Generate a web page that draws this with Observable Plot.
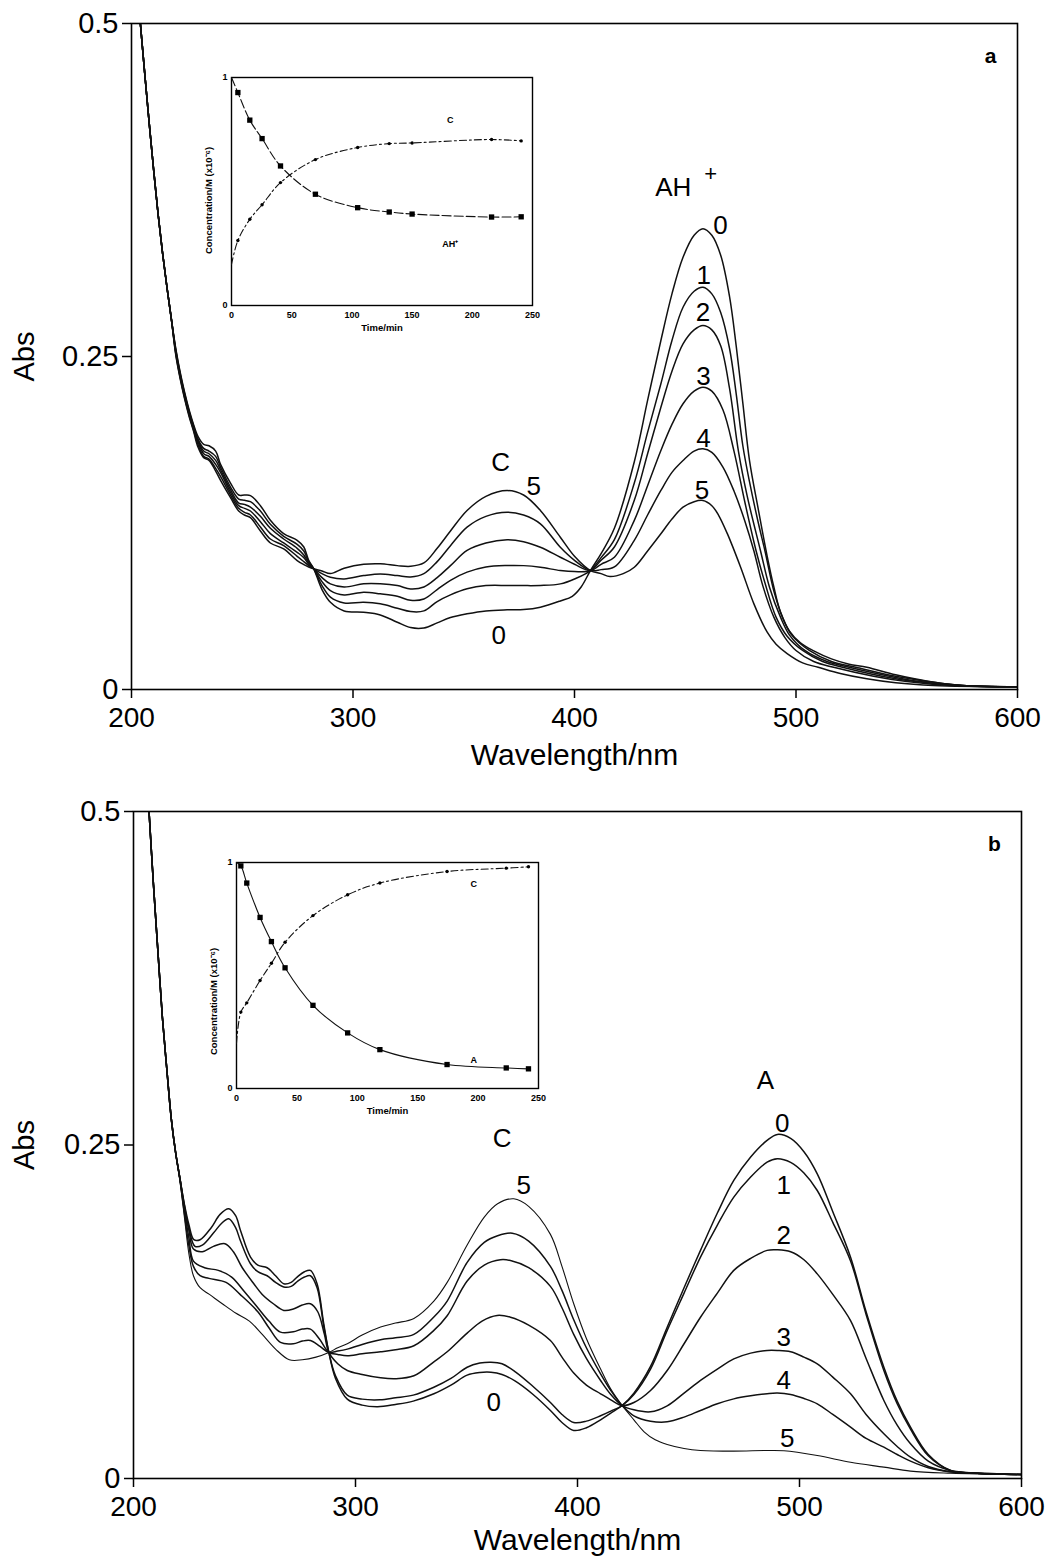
<!DOCTYPE html>
<html><head><meta charset="utf-8">
<script src="https://cdn.jsdelivr.net/npm/d3@7"></script>
<script src="https://cdn.jsdelivr.net/npm/@observablehq/plot@0.6"></script>
<style>
body{margin:0;background:#fff;}
#root{position:relative;width:1049px;height:1557px;background:#fff;overflow:hidden;}
.pane{position:absolute;}
</style></head><body><div id="root"></div>
<script>
// ---------- axis ticks ----------
const wlTicks = [200, 300, 400, 500, 600];
const absTicks = [0, 0.25, 0.5];
const timeTicks = [0, 50, 100, 150, 200, 250];
const concTicks = [0, 1];

// ---------- panel a spectra: [wavelength nm, Abs] ----------
const specA0 = [[204,0.500],[206,0.462],[208,0.425],[210,0.390],[212,0.357],[214,0.328],[216,0.302],[218,0.278],[220,0.256],[222,0.238],[224,0.223],[226,0.210],
 [228,0.199],[230,0.190],[232.6,0.184],[235,0.183],[238,0.179],[240.2,0.169],[244.7,0.155],[248.4,0.146],[251,0.146],[253.7,0.1456],[258.2,0.138],[262.7,0.127],[268.7,0.117],[274.8,0.112],[277.8,0.107],[280,0.097],[282.3,0.0906],
 [286,0.075],[289.8,0.0655],[296,0.059],[304.8,0.058],[312.3,0.056],[320,0.0505],[326,0.0465],[332,0.0462],[338,0.050],[344,0.054],[351.5,0.0568],[360,0.059],[369.6,0.0598],[377,0.060],[384.6,0.0618],[393.6,0.0665],[399,0.070],[403,0.077],[407.2,0.0893],
 [412,0.102],[418,0.121],[427,0.171],[433,0.217],[439,0.262],[444,0.297],[449,0.3245],[454,0.341],[458,0.346],[462,0.341],[466,0.326],[470,0.295],[473,0.258],[476,0.215],[479,0.172],[483,0.135],[487,0.100],[490,0.077],[493,0.058],[497,0.044],[502,0.035],[508,0.029],[516,0.023],[524,0.019],[532,0.0167],[545,0.011],[560,0.006],[575,0.003],[600,0.002]];
const specA1 = [[204,0.500],[206,0.462],[208,0.425],[210,0.390],[212,0.357],[214,0.328],[216,0.302],[218,0.278],[220,0.255],[222,0.237],[224,0.222],[226,0.209],
 [228,0.198],[230,0.188],[232.6,0.181],[235,0.179],[238,0.175],[240.2,0.167],[244.7,0.152],[248.4,0.143],[251,0.142],[253.7,0.141],[258.2,0.134],[262.7,0.124],[268.7,0.115],[274.8,0.109],[277.8,0.104],[280,0.096],[282.3,0.0906],
 [286,0.078],[289.8,0.0693],[296,0.065],[304.8,0.0655],[312.3,0.0643],[320,0.061],[326,0.0585],[332,0.059],[338,0.066],[344,0.071],[351.5,0.0756],[360,0.078],[369.6,0.0781],[377,0.078],[384.6,0.0781],[393.6,0.0793],[400,0.083],[407.2,0.0893],
 [412,0.099],[418,0.1125],[427,0.155],[433,0.193],[439,0.2295],[444,0.262],[449,0.287],[454,0.299],[458,0.302],[462,0.297],[466,0.283],[470,0.256],[473,0.222],[476,0.183],[479,0.156],[483,0.125],[486,0.104],[490,0.074],[494,0.054],[498,0.041],[506,0.0293],[516,0.021],[527,0.0167],[545,0.010],[560,0.006],[575,0.003],[600,0.002]];
const specA2 = [[204,0.500],[206,0.462],[208,0.425],[210,0.390],[212,0.357],[214,0.328],[216,0.302],[218,0.278],[220,0.254],[222,0.236],[224,0.221],[226,0.208],
 [228,0.197],[230,0.187],[232.6,0.179],[235,0.177],[238,0.172],[240.2,0.165],[244.7,0.150],[248.4,0.140],[251,0.139],[253.7,0.137],[258.2,0.130],[262.7,0.121],[268.7,0.113],[274.8,0.106],[277.8,0.101],[280,0.095],[282.3,0.0906],
 [286,0.081],[289.8,0.0743],[296,0.071],[304.8,0.0731],[312.3,0.0718],[320,0.070],[326,0.067],[332,0.068],[338,0.075],[344,0.082],[351.5,0.0881],[360,0.092],[369.6,0.0931],[377,0.093],[384.6,0.0918],[393.6,0.0893],[400,0.0885],[407.2,0.0893],
 [412,0.097],[418,0.107],[427,0.142],[433,0.177],[439,0.2119],[444,0.239],[449,0.2595],[454,0.270],[458,0.2733],[462,0.270],[466,0.258],[470,0.226],[474,0.179],[478,0.145],[484,0.104],[488,0.077],[493,0.0543],[497,0.041],[504,0.0293],[514,0.021],[524,0.0167],[545,0.009],[560,0.005],[575,0.003],[600,0.002]];
const specA3 = [[204,0.500],[206,0.462],[208,0.425],[210,0.390],[212,0.357],[214,0.328],[216,0.302],[218,0.278],[220,0.253],[222,0.235],[224,0.220],[226,0.207],
 [228,0.196],[230,0.186],[232.6,0.177],[235,0.175],[238,0.169],[240.2,0.163],[244.7,0.148],[248.4,0.138],[251,0.136],[253.7,0.134],[258.2,0.126],[262.7,0.117],[268.7,0.110],[274.8,0.103],[277.8,0.099],[280,0.094],[282.3,0.0906],
 [286,0.084],[289.8,0.0793],[296,0.077],[304.8,0.0793],[312.3,0.0793],[320,0.078],[326,0.0755],[332,0.077],[338,0.084],[344,0.093],[351.5,0.1044],[360,0.110],[369.6,0.1124],[377,0.111],[384.6,0.1068],[393.6,0.0993],[400,0.094],[407.2,0.0893],
 [412,0.094],[418,0.0993],[427,0.127],[433,0.153],[439,0.1794],[444,0.199],[449,0.2145],[454,0.224],[458,0.227],[462,0.224],[467,0.210],[472,0.179],[477,0.140],[482,0.104],[486,0.080],[491,0.0543],[496,0.040],[503,0.0293],[512,0.021],[521,0.0167],[545,0.008],[560,0.005],[575,0.003],[600,0.002]];
const specA4 = [[204,0.500],[206,0.462],[208,0.425],[210,0.390],[212,0.357],[214,0.328],[216,0.302],[218,0.278],[220,0.252],[222,0.234],[224,0.219],[226,0.206],
 [228,0.195],[230,0.184],[232.6,0.175],[235,0.173],[238,0.166],[240.2,0.160],[244.7,0.146],[248.4,0.136],[251,0.133],[253.7,0.131],[258.2,0.122],[262.7,0.113],[268.7,0.108],[274.8,0.100],[277.8,0.096],[280,0.093],[282.3,0.0906],
 [286,0.087],[289.8,0.0843],[296,0.083],[304.8,0.0855],[312.3,0.0868],[320,0.0855],[326,0.0845],[332,0.087],[338,0.096],[344,0.108],[351.5,0.1219],[360,0.130],[369.6,0.1331],[377,0.131],[384.6,0.1244],[393.6,0.1068],[400,0.097],[407.2,0.0893],
 [412,0.090],[418,0.092],[427,0.112],[433,0.131],[439,0.1494],[444,0.163],[449,0.1719],[454,0.179],[458,0.1807],[462,0.178],[467,0.167],[472,0.149],[477,0.126],[481,0.104],[485,0.078],[490,0.0543],[495,0.039],[500,0.0293],[508,0.021],[517,0.0167],[535,0.010],[550,0.006],[570,0.003],[600,0.002]];
const specA5 = [[204,0.500],[206,0.462],[208,0.425],[210,0.390],[212,0.357],[214,0.328],[216,0.302],[218,0.278],[220,0.251],[222,0.233],[224,0.218],[226,0.205],
 [228,0.194],[230,0.182],[232.6,0.174],[235,0.172],[238,0.164],[240.2,0.157],[244.7,0.144],[248.4,0.134],[251,0.131],[253.7,0.129],[258.2,0.119],[262.7,0.110],[268.7,0.1056],[274.8,0.0968],[277.8,0.0938],[280,0.092],[282.3,0.0906],
 [286,0.089],[289.8,0.087],[296,0.091],[304.8,0.094],[312.3,0.0944],[320,0.093],[326,0.0925],[332,0.095],[338,0.106],[344,0.119],[351.5,0.1344],[360,0.145],[369.6,0.1494],[377,0.146],[384.6,0.1344],[393.6,0.1143],[400,0.100],[407.2,0.0893],
 [412,0.087],[416,0.0848],[422,0.087],[427,0.0918],[433,0.104],[439,0.1169],[444,0.128],[449,0.1369],[454,0.141],[458,0.1419],[462,0.138],[465,0.131],[469,0.117],[475,0.0918],[481,0.0643],[487,0.043],[491,0.034],[496,0.027],[503,0.020],[510,0.0167],[520,0.012],[532,0.008],[545,0.005],[562,0.003],[600,0.002]];

// ---------- panel b spectra ----------
const specB0 = [[207,0.500],[209,0.445],[211,0.395],[213,0.346],[215,0.307],[217,0.270],[219,0.244],[221,0.224],[223,0.205],
 [225,0.190],[227.2,0.179],[230,0.179],[235,0.188],[239,0.198],[242.9,0.2022],[246,0.197],[248.2,0.186],[252.7,0.166],[256,0.160],[260.2,0.158],[264,0.152],[267.7,0.146],[271,0.147],[273.7,0.151],[277,0.155],[279.7,0.156],[282.7,0.146],[285.7,0.116],[288,0.0945],
 [291,0.075],[296.3,0.0595],[303,0.055],[310,0.0538],[318,0.0555],[326,0.058],[335.3,0.0635],[343,0.070],[350.3,0.0775],[356,0.0795],[361,0.0797],[366,0.078],[372,0.073],[380,0.063],[387.8,0.051],[393,0.042],[398.3,0.036],[404,0.038],[410.4,0.044],[415,0.049],[420.1,0.0547],
 [425.4,0.064],[432.9,0.084],[440.4,0.1134],[448,0.143],[455.4,0.171],[463,0.199],[470.4,0.2234],[478,0.241],[485.4,0.2534],[490,0.2579],[496,0.255],[502,0.245],[508,0.2284],[515,0.200],[523,0.1659],[530,0.125],[538,0.0834],[544,0.058],[550,0.0385],[558,0.018],[568,0.006],[580,0.004],[600,0.003]];
const specB1 = [[207,0.500],[209,0.445],[211,0.395],[213,0.346],[215,0.307],[217,0.270],[219,0.244],[221,0.224],[223,0.204],
 [225,0.187],[227.7,0.174],[231,0.175],[236,0.184],[239.5,0.191],[242.9,0.1947],[246,0.188],[248.2,0.178],[252.7,0.161],[256,0.155],[260.2,0.152],[264,0.147],[267.7,0.1435],[271,0.144],[274,0.148],[277,0.151],[279.7,0.152],[282.7,0.143],[285.7,0.114],[288,0.0945],
 [291,0.077],[296.3,0.0625],[303,0.0595],[311,0.059],[318,0.0605],[326,0.0625],[335.3,0.0684],[343,0.075],[350.3,0.0834],[356,0.0865],[361,0.0872],[366,0.086],[372,0.080],[380,0.069],[387.8,0.057],[393,0.048],[398.3,0.042],[404,0.043],[410.4,0.047],[415,0.0505],[420.1,0.0547],
 [425.4,0.063],[432.9,0.082],[440.4,0.111],[448,0.139],[455.4,0.166],[463,0.190],[470.4,0.2109],[478,0.226],[485.4,0.2371],[490,0.2397],[496,0.237],[502,0.229],[508,0.2159],[515,0.192],[523,0.163],[530,0.123],[538,0.0809],[544,0.056],[550,0.037],[558,0.017],[568,0.006],[580,0.004],[600,0.003]];
const specB2 = [[207,0.500],[209,0.445],[211,0.395],[213,0.346],[215,0.307],[217,0.270],[219,0.244],[221,0.224],[223,0.202],
 [225,0.186],[227,0.172],[231,0.170],[236,0.174],[241.2,0.176],[245,0.170],[249,0.158],[254.2,0.146],[258,0.138],[263,0.131],[267.7,0.126],[272,0.127],[276,0.130],[279.7,0.131],[283,0.125],[286,0.108],[288,0.0945],
 [292,0.086],[296.3,0.081],[303,0.078],[311.3,0.0755],[318,0.0748],[326.3,0.077],[335.3,0.0875],[341.3,0.095],[350.3,0.109],[357,0.118],[363.8,0.1222],[369.8,0.1209],[378,0.115],[387.8,0.1034],[393,0.091],[398.3,0.079],[404,0.070],[410.4,0.0635],[415,0.059],[420.1,0.0547],
 [425.4,0.057],[432.9,0.066],[440.4,0.081],[448,0.101],[455.4,0.1209],[463,0.139],[470.4,0.156],[478,0.165],[485.4,0.171],[490,0.1714],[496,0.170],[502,0.164],[508,0.1534],[515,0.138],[523,0.1184],[530,0.090],[538,0.0585],[544,0.040],[550,0.026],[558,0.013],[568,0.006],[580,0.004],[600,0.003]];
const specB3 = [[207,0.500],[209,0.445],[211,0.395],[213,0.346],[215,0.307],[217,0.270],[219,0.244],[221,0.224],[223,0.200],
 [225,0.180],[227,0.163],[232,0.158],[238.2,0.156],[244.2,0.151],[250,0.140],[256,0.128],[261,0.118],[266.2,0.1097],[272,0.110],[276,0.112],[279.7,0.112],[284,0.104],[288,0.0945],
 [292,0.093],[296.3,0.092],[303,0.0935],[311.3,0.095],[318,0.0965],[326.3,0.0995],[335.3,0.111],[341.3,0.122],[350.3,0.148],[358,0.160],[365.3,0.164],[369.8,0.1634],[378,0.158],[387.8,0.144],[393,0.128],[398.3,0.108],[404,0.090],[410.4,0.0735],[415,0.063],[420.1,0.0547],
 [425.4,0.0515],[432.9,0.050],[440.4,0.0545],[448,0.064],[455.4,0.0735],[463,0.082],[470.4,0.0897],[478,0.094],[485.4,0.096],[490,0.096],[496,0.095],[502,0.091],[508,0.086],[515,0.076],[523,0.0635],[530,0.048],[538,0.0335],[544,0.024],[550,0.016],[558,0.009],[568,0.005],[580,0.004],[600,0.003]];
const specB4 = [[207,0.500],[209,0.445],[211,0.395],[213,0.346],[215,0.307],[217,0.270],[219,0.244],[221,0.223],[223,0.198],
 [225,0.174],[227,0.159],[230,0.152],[234,0.150],[241.7,0.147],[248,0.138],[256,0.125],[261,0.113],[266.2,0.102],[272,0.101],[276,0.103],[279.7,0.1034],[284,0.099],[288,0.0945],
 [292,0.0955],[296.3,0.097],[303,0.1005],[311.3,0.104],[318,0.1055],[326.3,0.108],[335.3,0.121],[341.3,0.133],[350.3,0.162],[358,0.177],[364,0.182],[370.6,0.1839],[378,0.178],[387.8,0.159],[393,0.141],[398.3,0.119],[404,0.098],[410.4,0.0785],[415,0.066],[420.1,0.0547],
 [425.4,0.047],[432.9,0.043],[440.4,0.0425],[448,0.046],[455.4,0.051],[463,0.056],[470.4,0.0597],[478,0.062],[485.4,0.0635],[490,0.064],[496,0.063],[502,0.060],[508,0.056],[515,0.048],[523,0.0385],[530,0.030],[538,0.0235],[544,0.018],[550,0.013],[558,0.008],[568,0.005],[580,0.004],[600,0.003]];
const specB5 = [[207,0.500],[209,0.445],[211,0.395],[213,0.346],[215,0.307],[217,0.270],[219,0.244],[221,0.222],[223,0.195],
 [225,0.168],[227,0.152],[230,0.143],[234.2,0.138],[240,0.131],[246,0.124],[252.2,0.118],[258,0.108],[264,0.097],[270.2,0.089],[276,0.089],[282.2,0.091],[288,0.0945],
 [292,0.098],[296.3,0.101],[303,0.1075],[311.3,0.1135],[318,0.1165],[326.3,0.120],[335.3,0.133],[341.3,0.147],[350.3,0.175],[358,0.196],[364,0.206],[371.3,0.2097],[378,0.204],[387.8,0.183],[393,0.159],[398.3,0.131],[404,0.105],[410.4,0.082],[415,0.067],[420.1,0.0547],
 [425.4,0.044],[430,0.035],[435,0.029],[440.4,0.0255],[448,0.0225],[455.4,0.021],[470.4,0.0205],[485.4,0.021],[493,0.0208],[508,0.0172],[523,0.0122],[538,0.0085],[550,0.0055],[568,0.004],[600,0.003]];

// ---------- curve labels (data coordinates) ----------
const labelsA = [
 {x:444.6,y:0.377,t:"AH"},
 {x:465.9,y:0.348,t:"0"},{x:458.3,y:0.311,t:"1"},{x:458.0,y:0.283,t:"2"},
 {x:458.2,y:0.2345,t:"3"},{x:458.2,y:0.188,t:"4"},{x:457.6,y:0.149,t:"5"},
 {x:366.6,y:0.1706,t:"C"},{x:381.6,y:0.152,t:"5"},{x:365.8,y:0.0405,t:"0"}];
const plusA = [{x:461.5,y:0.387,t:"+"}];
const labelsB = [
 {x:484.7,y:0.2984,t:"A"},
 {x:492.2,y:0.2659,t:"0"},{x:492.9,y:0.2196,t:"1"},{x:492.9,y:0.1822,t:"2"},
 {x:492.9,y:0.1059,t:"3"},{x:492.9,y:0.0735,t:"4"},{x:494.5,y:0.0298,t:"5"},
 {x:366.1,y:0.2546,t:"C"},{x:375.8,y:0.2196,t:"5"},{x:362.3,y:0.0572,t:"0"}];

// ---------- inset kinetics ----------
const kinATime = [0, 5.3, 15.2, 25.4, 40.7, 69.7, 104.8, 131, 150, 216, 240.6];
const kinAAH   = [1.0, 0.934, 0.813, 0.732, 0.612, 0.488, 0.429, 0.410, 0.401, 0.388, 0.389];
const kinAC    = [0.18, 0.285, 0.378, 0.442, 0.539, 0.640, 0.693, 0.710, 0.713, 0.728, 0.722];
const kinALabels = [{x:181.7,y:0.813,t:"C"},{x:181.7,y:0.271,t:"AH\u207A"}];

const kinBTime = [0, 3.6, 8.5, 19.5, 28.9, 40.2, 63.3, 92, 118.7, 174.3, 223.3, 241.7];
const kinBA    = [1.0, 0.985, 0.909, 0.757, 0.650, 0.534, 0.368, 0.246, 0.172, 0.106, 0.091, 0.087];
const kinBC    = [0.20, 0.338, 0.379, 0.478, 0.554, 0.647, 0.765, 0.857, 0.909, 0.960, 0.975, 0.981];
const kinBLabels = [{x:196.3,y:0.904,t:"C"},{x:196.3,y:0.125,t:"A"}];

// ---------- drawing ----------
const FONT = '"Liberation Sans", Arial, Helvetica, sans-serif';
const root = document.getElementById("root");
function place(el, left, top) {
  const d = document.createElement("div");
  d.className = "pane"; d.style.left = left + "px"; d.style.top = top + "px";
  d.appendChild(el); root.appendChild(d);
}

function mainPlot(o) {
  return Plot.plot({
    width: 1049, height: o.h,
    marginTop: o.mt, marginBottom: o.mb, marginLeft: o.ml, marginRight: o.mr,
    x: {domain: [200, 600]}, y: {domain: [0, 0.5]},
    style: {fontFamily: FONT, background: "transparent", color: "#000"},
    marks: [
      ...o.curves.map((c, i) => Plot.line(c, {x: d => d[0], y: d => d[1], curve: "catmull-rom",
        stroke: "#111", strokeWidth: (o.light && i === 5) ? 1.1 : 1.5, clip: true})),
      Plot.frame({stroke: "#000", strokeWidth: 1.6}),
      Plot.axisY({ticks: absTicks, tickFormat: d => String(d), tickSize: 9, tickPadding: 4,
        fontSize: 29, label: null, strokeWidth: 1.5}),
      Plot.axisX({ticks: wlTicks, tickFormat: d => String(d), tickSize: 9, tickPadding: 9,
        fontSize: 28, label: null, strokeWidth: 1.5}),
      Plot.text(o.labels, {x: "x", y: "y", text: "t", fontSize: 26, fill: "#000"}),
      ...(o.plus ? [Plot.text(o.plus, {x: "x", y: "y", text: "t", fontSize: 22, fill: "#000"})] : []),
      Plot.text(["Abs"], {text: d => d, frameAnchor: "left", dx: -(o.ml - 24), rotate: -90,
        textAnchor: "middle", lineAnchor: "middle", fontSize: 29}),
      Plot.text(["Wavelength/nm"], {text: d => d, frameAnchor: "bottom", dy: o.xlabDy, dx: o.xlabDx,
        textAnchor: "middle", lineAnchor: "middle", fontSize: 30}),
      Plot.text([o.letter], {text: d => d, frameAnchor: "top-right", dx: -27, dy: 33,
        textAnchor: "middle", lineAnchor: "middle", fontSize: 21, fontWeight: "bold"})
    ]
  });
}

function insetPlot(o) {
  const rows = o.time.map((t, i) => ({t, s: o.s[i], c: o.c[i]}));
  return Plot.plot({
    width: o.w, height: o.h, marginLeft: 40, marginRight: 10, marginTop: 8, marginBottom: 30,
    x: {domain: [0, 250]}, y: {domain: [0, 1]},
    style: {fontFamily: FONT, background: "transparent", color: "#000"},
    marks: [
      Plot.frame({stroke: "#000", strokeWidth: 1.4}),
      Plot.axisX({ticks: timeTicks, tickFormat: d => String(d), tickSize: 0, tickPadding: 6,
        fontSize: 9, fontWeight: "bold", label: null}),
      Plot.axisY({ticks: concTicks, tickFormat: d => String(d), tickSize: 0, tickPadding: 4,
        fontSize: 9, fontWeight: "bold", label: null}),
      Plot.line(rows, {x: "t", y: "s", curve: "catmull-rom", stroke: "#111", strokeWidth: 1.1,
        strokeDasharray: o.sDash}),
      Plot.line(rows, {x: "t", y: "c", curve: "catmull-rom", stroke: "#111", strokeWidth: 1.1,
        strokeDasharray: "7,3,2,3"}),
      Plot.dot(rows.filter(d => d.t > 0), {x: "t", y: "s", symbol: "square", r: 3, fill: "#000"}),
      Plot.dot(rows.filter(d => d.t > 0), {x: "t", y: "c", r: 1.7, fill: "#000"}),
      Plot.text(o.labels, {x: "x", y: "y", text: "t", fontSize: 9, fontWeight: "bold"}),
      Plot.text(["Time/min"], {text: d => d, frameAnchor: "bottom", dy: 22,
        textAnchor: "middle", lineAnchor: "middle", fontSize: 9.5, fontWeight: "bold"}),
      Plot.text(["Concentration/M (x10\u207B\u2076)"], {text: d => d, frameAnchor: "left", dx: -23, dy: o.titleDy,
        rotate: -90, textAnchor: "middle", lineAnchor: "middle", fontSize: 9.5, fontWeight: "bold"})
    ]
  });
}

place(mainPlot({h: 780, mt: 23, mb: 91, ml: 131, mr: 32, xlabDy: 66, xlabDx: 0,
  curves: [specA0, specA1, specA2, specA3, specA4, specA5], labels: labelsA, plus: plusA, letter: "a"}), 0, 0);
place(mainPlot({h: 777, mt: 31, mb: 79, ml: 133, mr: 28, xlabDy: 62, xlabDx: 0, light: true,
  curves: [specB0, specB1, specB2, specB3, specB4, specB5], labels: labelsB, letter: "b"}), 0, 780);
place(insetPlot({w: 351, h: 266, time: kinATime, s: kinAAH, c: kinAC, labels: kinALabels,
  sDash: "9,3", titleDy: 9}), 191, 69);
place(insetPlot({w: 352, h: 264, time: kinBTime, s: kinBA, c: kinBC, labels: kinBLabels,
  sDash: null, titleDy: 26}), 196, 854);
</script>
</body></html>
